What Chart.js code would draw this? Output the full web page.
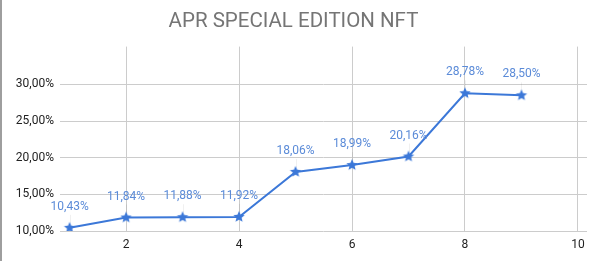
<!DOCTYPE html>
<html>
<head>
<meta charset="utf-8">
<script src="https://cdn.jsdelivr.net/npm/chart.js@4"></script>
<style>
  html, body { margin: 0; padding: 0; background: #fff; }
  #wrap { position: relative; width: 599px; height: 261px; }
</style>
</head>
<body>
<div id="wrap"><canvas id="myChart" width="599" height="261"></canvas></div>
<script>
// dados do gráfico
const xValues = [1, 2, 3, 4, 5, 6, 7, 8, 9];
const aprValues = [10.43, 11.84, 11.88, 11.92, 18.06, 18.99, 20.16, 28.78, 28.50];
const xTicks = [2, 4, 6, 8, 10];
const yTicks = [10, 15, 20, 25, 30];

const lineColor = '#3c78d8';
const labelColor = '#5b8bd8';

function pct(v) {
  return v.toFixed(2).replace('.', ',') + '%';
}

// estrela cheia de 5 pontas para os marcadores
function makeStar(r) {
  const size = Math.ceil(r * 2 + 2);
  const c = document.createElement('canvas');
  c.width = size; c.height = size;
  const g = c.getContext('2d');
  const cx = size / 2, cy = size / 2, inner = r * 0.45;
  g.beginPath();
  for (let i = 0; i < 10; i++) {
    const rad = i % 2 === 0 ? r : inner;
    const a = -Math.PI / 2 + i * Math.PI / 5;
    const px = cx + rad * Math.cos(a), py = cy + rad * Math.sin(a);
    if (i === 0) g.moveTo(px, py); else g.lineTo(px, py);
  }
  g.closePath();
  g.fillStyle = lineColor;
  g.fill();
  return c;
}
const star = makeStar(6);

// borda cinza à esquerda + rótulos dos pontos
const extras = {
  id: 'extras',
  beforeDraw(chart) {
    const c = chart.ctx;
    c.save();
    c.fillStyle = '#9e9e9e';
    c.fillRect(0, 0, 2, chart.height);
    c.restore();
  },
  afterDatasetsDraw(chart) {
    const c = chart.ctx;
    const meta = chart.getDatasetMeta(0);
    c.save();
    c.font = '12px Roboto';
    c.fillStyle = labelColor;
    c.textAlign = 'center';
    c.textBaseline = 'middle';
    meta.data.forEach((pt, i) => {
      c.strokeStyle = 'rgba(0,0,0,0.06)';
      c.lineWidth = 1;
      c.beginPath();
      c.moveTo(Math.round(pt.x) + 0.5, pt.y - 13);
      c.lineTo(Math.round(pt.x) + 0.5, pt.y - 5);
      c.stroke();
      c.fillText(pct(aprValues[i]), pt.x, pt.y - 21);
    });
    c.restore();
  }
};

const ctx = document.getElementById('myChart').getContext('2d');

new Chart(ctx, {
  type: 'line',
  data: {
    datasets: [{
      label: 'APR',
      data: xValues.map((x, i) => ({ x: x, y: aprValues[i] })),
      borderColor: lineColor,
      backgroundColor: lineColor,
      borderWidth: 2,
      tension: 0,
      pointStyle: star,
      pointRadius: 6
    }]
  },
  options: {
    responsive: false,
    animation: false,
    layout: { padding: { left: 0, right: 12, top: 0, bottom: 0 } },
    plugins: {
      legend: { display: false },
      tooltip: { enabled: false },
      title: {
        display: true,
        text: 'APR SPECIAL EDITION NFT',
        color: '#757575',
        font: { family: 'Roboto', size: 20.5, weight: 'normal' },
        padding: { top: 10, bottom: 12 }
      }
    },
    scales: {
      x: {
        type: 'linear',
        min: 0.83,
        max: 10.16,
        afterBuildTicks: (s) => { s.ticks = xTicks.map(v => ({ value: v })); },
        afterFit: (s) => { s.height = 30; },
        grid: { color: '#cccccc', drawTicks: false },
        border: { display: false },
        ticks: {
          color: '#222222',
          font: { family: 'Roboto', size: 12 },
          padding: 7,
          maxRotation: 0
        }
      },
      y: {
        min: 10,
        max: 35.15,
        afterBuildTicks: (s) => { s.ticks = yTicks.map(v => ({ value: v })); },
        afterFit: (s) => { s.width = 60; },
        grid: { color: '#cccccc', drawTicks: false },
        border: { display: false },
        ticks: {
          color: '#222222',
          font: { family: 'Roboto', size: 12 },
          padding: 6,
          callback: (v) => pct(v)
        }
      }
    }
  },
  plugins: [extras]
});
</script>
</body>
</html>
